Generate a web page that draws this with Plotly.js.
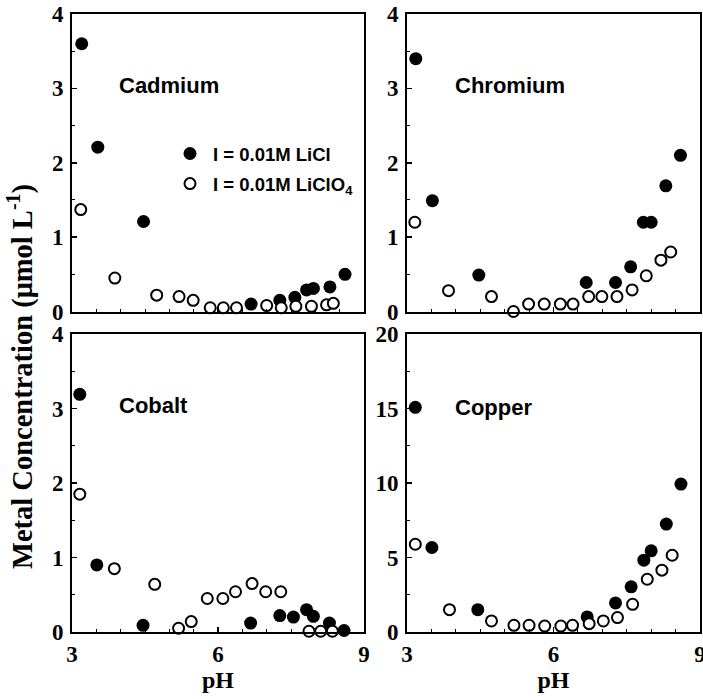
<!DOCTYPE html>
<html>
<head>
<meta charset="utf-8">
<script src="https://cdn.plot.ly/plotly-3.0.1.min.js"></script>
<style>html,body{margin:0;padding:0;background:#fff}#chart{width:703px;height:699px}</style>
</head>
<body>
<div id="chart"></div>
<script>
// ---- Data ----
const legendNames = ["I = 0.01M LiCl", "I = 0.01M LiClO<sub>4</sub>"];
const panelNames = ["Cadmium", "Chromium", "Cobalt", "Copper"];

// Cadmium
const cdClX = [3.20, 3.53, 4.47, 6.68, 7.27, 7.58, 7.82, 7.96, 8.30, 8.61];
const cdClY = [3.60, 2.21, 1.21, 0.10, 0.15, 0.19, 0.29, 0.31, 0.33, 0.50];
const cdClO4X = [3.18, 3.88, 4.74, 5.20, 5.49, 5.84, 6.11, 6.38, 7.00, 7.30, 7.60, 7.92, 8.23, 8.37];
const cdClO4Y = [1.37, 0.45, 0.22, 0.20, 0.15, 0.05, 0.05, 0.05, 0.08, 0.05, 0.07, 0.07, 0.09, 0.11];

// Chromium
const crClX = [3.18, 3.52, 4.47, 6.67, 7.27, 7.58, 7.84, 8.00, 8.30, 8.60];
const crClY = [3.40, 1.49, 0.49, 0.39, 0.39, 0.60, 1.20, 1.20, 1.69, 2.10];
const crClO4X = [3.16, 3.85, 4.73, 5.18, 5.49, 5.81, 6.14, 6.40, 6.72, 6.99, 7.30, 7.61, 7.90, 8.20, 8.40];
const crClO4Y = [1.20, 0.28, 0.20, 0.00, 0.10, 0.10, 0.10, 0.10, 0.20, 0.20, 0.20, 0.29, 0.48, 0.69, 0.80];

// Cobalt
const coClX = [3.16, 3.51, 4.46, 6.67, 7.27, 7.55, 7.82, 7.96, 8.29, 8.59];
const coClY = [3.19, 0.90, 0.09, 0.12, 0.22, 0.20, 0.30, 0.21, 0.12, 0.02];
const coClO4X = [3.16, 3.87, 4.70, 5.19, 5.45, 5.78, 6.10, 6.36, 6.70, 6.98, 7.29, 7.87, 8.11, 8.35];
const coClO4Y = [1.85, 0.85, 0.64, 0.05, 0.14, 0.45, 0.45, 0.54, 0.65, 0.54, 0.54, 0.01, 0.01, 0.01];

// Copper
const cuClX = [3.17, 3.51, 4.45, 6.69, 7.27, 7.59, 7.85, 8.00, 8.31, 8.61];
const cuClY = [15.08, 5.67, 1.50, 1.01, 1.95, 3.03, 4.82, 5.45, 7.24, 9.93];
const cuClO4X = [3.17, 3.87, 4.73, 5.19, 5.50, 5.82, 6.15, 6.39, 6.73, 7.02, 7.31, 7.62, 7.92, 8.22, 8.43];
const cuClO4Y = [5.89, 1.50, 0.74, 0.45, 0.45, 0.40, 0.40, 0.45, 0.56, 0.74, 0.97, 1.86, 3.54, 4.15, 5.15];

const xTickVals = [3, 6, 9];
const yTickVals = [0, 1, 2, 3, 4];
const yTickValsCu = [0, 5, 10, 15, 20];

// ---- Build figure ----
const filled = {size: 13, color: "#000", line: {width: 0}};
const open = {size: 11, color: "#fff", symbol: "circle", line: {width: 2, color: "#000"}};

const sets = [
  [cdClX, cdClY, cdClO4X, cdClO4Y, "x", "y"],
  [crClX, crClY, crClO4X, crClO4Y, "x2", "y2"],
  [coClX, coClY, coClO4X, coClO4Y, "x3", "y3"],
  [cuClX, cuClY, cuClO4X, cuClO4Y, "x4", "y4"]
];
const traces = [];
sets.forEach((s, i) => {
  traces.push({x: s[0], y: s[1], xaxis: s[4], yaxis: s[5], type: "scatter", mode: "markers",
    marker: filled, name: legendNames[0], showlegend: i === 0, legendgroup: "a", cliponaxis: false});
  traces.push({x: s[2], y: s[3], xaxis: s[4], yaxis: s[5], type: "scatter", mode: "markers",
    marker: open, name: legendNames[1], showlegend: i === 0, legendgroup: "b", cliponaxis: false});
});

const W = 703, H = 699;
const colL = [72 / W, 364 / W], colR = [407 / W, 700 / W];
const rowT = [1 - 311.5 / H, 1 - 14 / H], rowB = [1 - 632 / H, 1 - 334 / H];

const tickFont = {family: "Liberation Serif, Times New Roman, serif", size: 23, weight: "bold", color: "#000"};
const titleFont = {family: "Liberation Serif, Times New Roman, serif", size: 24, weight: "bold", color: "#000"};
function xa(dom, anchor, labels) {
  const a = {domain: dom, anchor: anchor, range: [3, 9], showline: true, mirror: true, linewidth: 2,
    linecolor: "#000", ticks: "inside", ticklen: 5, tickwidth: 1.5, tickcolor: "#000",
    tickvals: xTickVals, showticklabels: labels, tickfont: tickFont, showgrid: false, zeroline: false,
    ticklabeloverflow: "allow",
    minor: {dtick: 0.5, tick0: 3, ticks: "inside", ticklen: 3, tickwidth: 1, tickcolor: "#000"},
    automargin: false, fixedrange: true};
  if (labels) a.title = {text: "pH", font: titleFont, standoff: 2};
  return a;
}
function ya(dom, anchor, vals, dt) {
  return {domain: dom, anchor: anchor, range: [vals[0], vals[vals.length - 1]], showline: true, mirror: true,
    linewidth: 2, linecolor: "#000", ticks: "inside", ticklen: 5, tickwidth: 1.5, tickcolor: "#000",
    tickvals: vals, tickfont: tickFont, showgrid: false, zeroline: false, ticklabelstandoff: 2,
    ticklabeloverflow: "allow",
    minor: {dtick: dt, tick0: 0, ticks: "inside", ticklen: 3, tickwidth: 1, tickcolor: "#000"},
    automargin: false, fixedrange: true};
}

const labelFont = {family: "Liberation Sans, Arial, sans-serif", size: 22, weight: "bold", color: "#000"};
const annos = [
  {text: panelNames[0], x: 3.93, y: 3.04, xref: "x", yref: "y", xanchor: "left", yanchor: "middle", showarrow: false, font: labelFont},
  {text: panelNames[1], x: 3.95, y: 3.04, xref: "x2", yref: "y2", xanchor: "left", yanchor: "middle", showarrow: false, font: labelFont},
  {text: panelNames[2], x: 3.93, y: 3.04, xref: "x3", yref: "y3", xanchor: "left", yanchor: "middle", showarrow: false, font: labelFont},
  {text: panelNames[3], x: 3.95, y: 15.1, xref: "x4", yref: "y4", xanchor: "left", yanchor: "middle", showarrow: false, font: labelFont},
  {text: "Metal Concentration (μmol L<sup>-1</sup>)", x: 20 / W, y: 1 - 377 / H, xref: "paper", yref: "paper",
    xanchor: "center", yanchor: "middle", textangle: -90, showarrow: false,
    font: {family: "Liberation Serif, Times New Roman, serif", size: 28.5, weight: "bold", color: "#000"}}
];

const layout = {
  width: W, height: H, margin: {l: 0, r: 0, t: 0, b: 0}, paper_bgcolor: "#fff", plot_bgcolor: "#fff",
  xaxis: xa(colL, "y", false), yaxis: ya(rowT, "x", yTickVals, 0.5),
  xaxis2: xa(colR, "y2", false), yaxis2: ya(rowT, "x2", yTickVals, 0.5),
  xaxis3: xa(colL, "y3", true), yaxis3: ya(rowB, "x3", yTickVals, 0.5),
  xaxis4: xa(colR, "y4", true), yaxis4: ya(rowB, "x4", yTickValsCu, 2.5),
  showlegend: true,
  legend: {x: 167 / W, y: 1 - 135 / H, xanchor: "left", yanchor: "top", bgcolor: "rgba(0,0,0,0)",
    font: {family: "Liberation Sans, Arial, sans-serif", size: 18.5, weight: "bold", color: "#000"},
    tracegroupgap: 3, itemsizing: "trace", itemwidth: 36},
  annotations: annos
};

Plotly.newPlot("chart", traces, layout, {staticPlot: true, displayModeBar: false});
</script>
</body>
</html>
